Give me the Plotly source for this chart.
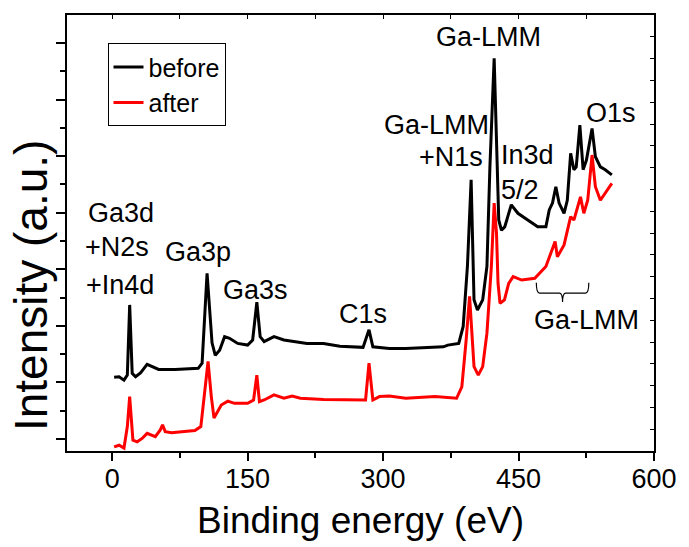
import plotly.graph_objects as go

# ---------------- data ----------------
before_x = [2.2, 7.7, 13.1, 16.8, 19.4, 22.2, 25.9, 31.4, 38.7, 44.1, 51.5, 69.7, 95.3, 99.6,
            105.1, 110.6, 114.2, 119.0, 124.5, 130.0, 139.0, 150.0, 155.6, 160.2, 163.9, 168.3,
            179.2, 190.2, 215.7, 234.0, 252.2, 277.8, 284.4, 288.7, 306.9, 325.2, 357.4, 366.8,
            371.7, 383.8, 388.7, 393.4, 397.5, 400.7, 404.5, 410.3, 415.0, 418.3, 423.0, 426.3,
            428.1, 431.1, 434.7, 442.0, 449.3, 460.2, 471.2, 480.3, 484.0, 487.6, 491.3, 494.9,
            500.4, 504.0, 507.7, 511.3, 513.9, 517.9, 521.5, 525.2, 531.4, 535.1, 540.6, 546.0,
            553.3]
before_y = [1.09, 1.10, 1.04, 1.13, 2.37, 1.16, 1.10, 1.17, 1.32, 1.28, 1.23, 1.23, 1.25, 1.34,
            2.93, 1.70, 1.48, 1.57, 1.81, 1.78, 1.69, 1.66, 1.75, 2.42, 1.81, 1.72,
            1.81, 1.75, 1.69, 1.69, 1.64, 1.62, 1.93, 1.63, 1.60, 1.60, 1.63, 1.63,
            1.66, 1.69, 1.99, 3.05, 4.58, 2.46, 2.28, 2.46, 3.05, 4.81, 6.73, 4.81,
            3.87, 3.69, 3.75, 4.14, 3.99, 3.87, 3.75, 3.75, 4.05, 4.17, 4.46, 4.17,
            3.99, 4.22, 5.05, 4.76, 4.81, 5.55, 4.76, 4.93, 5.49, 4.99, 4.81, 4.76,
            4.67]

after_x = [2.2, 7.7, 13.1, 16.8, 19.4, 23.0, 27.7, 33.2, 38.7, 47.8, 53.3, 55.8, 58.8, 66.0,
           77.0, 91.6, 98.2, 102.6, 106.2, 109.8, 112.8, 120.8, 128.1, 135.4, 150.0, 156.6,
           160.2, 163.1, 168.3, 179.2, 190.2, 199.3, 208.4, 234.0, 270.4, 280.6, 284.4, 288.7,
           296.0, 306.9, 325.2, 357.4, 381.4, 387.2, 392.0, 395.8, 400.7, 405.4, 410.3, 415.0,
           419.9, 423.0, 425.6, 427.3, 429.5, 434.4, 439.1, 444.0, 453.5, 468.0, 480.3, 485.8,
           490.5, 493.0, 500.4, 507.7, 511.3, 518.6, 522.3, 526.6, 531.4, 535.1, 540.6, 553.3]
after_y = [-0.14, -0.11, -0.16, 0.22, 0.75, -0.02, -0.05, 0.01, 0.10, 0.04, 0.16, 0.25, 0.13, 0.11,
           0.13, 0.15, 0.22, 0.92, 1.37, 0.75, 0.37, 0.60, 0.67, 0.63, 0.63, 0.69,
           1.13, 0.66, 0.69, 0.78, 0.72, 0.76, 0.72, 0.70, 0.69, 0.69, 1.34, 0.69,
           0.75, 0.76, 0.72, 0.75, 0.72, 0.92, 1.75, 2.52, 1.28, 1.13, 1.28, 1.87,
           3.05, 4.17, 3.64, 2.75, 2.40, 2.46, 2.75, 2.87, 2.81, 2.84, 3.05, 3.28,
           3.49, 3.22, 3.43, 3.93, 3.87, 4.28, 3.99, 4.22, 5.02, 4.46, 4.22, 4.52]

series_names = ["before", "after"]
series_colors = ["#000000", "#ff0000"]

x_tick_vals = [0, 150, 300, 450, 600]
x_tick_text = ["0", "150", "300", "450", "600"]

# peak labels: (text, x, y)
peak_labels = [
    ("Ga-LMM", 417.0, 7.11),
    ("Ga-LMM", 358.6, 5.55),
    ("+N1s", 375.6, 4.98),
    ("In3d", 459.9, 5.02),
    ("5/2", 451.7, 4.40),
    ("O1s", 552.4, 5.76),
    ("Ga3d", 9.9, 4.00),
    ("+N2s", 5.5, 3.39),
    ("+In4d", 8.2, 2.72),
    ("Ga3p", 95.3, 3.31),
    ("Ga3s", 158.8, 2.63),
    ("C1s", 277.6, 2.21),
    ("Ga-LMM", 525.6, 2.10),
]

# brace under the Ga-LMM group (data units)
brace_x0, brace_x1 = 469.7, 527.8
brace_y_top, brace_y_mid, brace_y_tip = 2.76, 2.58, 2.42

FONT = "Liberation Sans, Arial, Helvetica, sans-serif"

fig = go.Figure()
for name, xs, ys, col in zip(series_names, [before_x, after_x], [before_y, after_y], series_colors):
    fig.add_trace(go.Scatter(x=xs, y=ys, mode="lines", name=name,
                             line=dict(color=col, width=3)))

# dummy trace for top/right axes
fig.add_trace(go.Scatter(x=[None], y=[None], xaxis="x2", yaxis="y2", showlegend=False,
                         hoverinfo="skip"))

for txt, xv, yv in peak_labels:
    fig.add_annotation(x=xv, y=yv, text=txt, showarrow=False, xanchor="center", yanchor="middle",
                       font=dict(family=FONT, size=27, color="black"))

# brace path
bx_m = (brace_x0 + brace_x1) / 2
d = 3.5
path = (f"M {brace_x0},{brace_y_top} Q {brace_x0},{brace_y_mid} {brace_x0 + d},{brace_y_mid} "
        f"L {bx_m - d},{brace_y_mid} Q {bx_m},{brace_y_mid} {bx_m},{brace_y_tip} "
        f"Q {bx_m},{brace_y_mid} {bx_m + d},{brace_y_mid} "
        f"L {brace_x1 - d},{brace_y_mid} Q {brace_x1},{brace_y_mid} {brace_x1},{brace_y_top}")
fig.add_shape(type="path", path=path, xref="x", yref="y", line=dict(color="black", width=1.2))

# y axis title as annotation (offset as in reference)
fig.add_annotation(text="Intensity (a.u.)", xref="paper", yref="paper", x=-0.06, y=0.38,
                   textangle=-90, showarrow=False, xanchor="center", yanchor="middle",
                   font=dict(family=FONT, size=46, color="black"))

fig.update_layout(
    width=689, height=547,
    margin=dict(l=67, r=27, t=15, b=96),
    paper_bgcolor="white", plot_bgcolor="white",
    font=dict(family=FONT, color="black"),
    showlegend=True,
    legend=dict(x=0.069, y=0.935, xanchor="left", yanchor="top",
                bordercolor="black", borderwidth=1, bgcolor="white",
                font=dict(family=FONT, size=25, color="black"),
                tracegroupgap=0, itemwidth=30),
    xaxis=dict(range=[-50, 600], tickvals=x_tick_vals, ticktext=x_tick_text,
               ticks="outside", ticklen=8, tickwidth=1.5, tickcolor="black",
               ticklabelstandoff=-5,
               showline=True, linecolor="black", linewidth=1.5, mirror=True,
               showgrid=False, zeroline=False,
               tickfont=dict(family=FONT, size=27, color="black"),
               minor=dict(dtick=75, tick0=0, ticks="outside", ticklen=5, tickwidth=1.5,
                          tickcolor="black", showgrid=False),
               title=dict(text="Binding energy (eV)", font=dict(family=FONT, size=37, color="black"),
                          standoff=14)),
    yaxis=dict(range=[-0.212, 7.495], dtick=1, tick0=0, showticklabels=False,
               ticks="outside", ticklen=9, tickwidth=1.5, tickcolor="black",
               showline=True, linecolor="black", linewidth=1.5, mirror=True,
               showgrid=False, zeroline=False,
               minor=dict(dtick=0.5, tick0=0, ticks="outside", ticklen=5, tickwidth=1.5,
                          tickcolor="black", showgrid=False)),
    xaxis2=dict(range=[-50, 600], overlaying="x", side="top", dtick=75, tick0=0,
                ticks="inside", ticklen=4, tickwidth=1.2, tickcolor="black",
                showticklabels=False, showgrid=False, zeroline=False, showline=False),
    yaxis2=dict(range=[0, 20], overlaying="y", side="right", dtick=1, tick0=0,
                ticks="inside", ticklen=4, tickwidth=1.2, tickcolor="black",
                showticklabels=False, showgrid=False, zeroline=False, showline=False),
)

fig.write_html("out.html")
